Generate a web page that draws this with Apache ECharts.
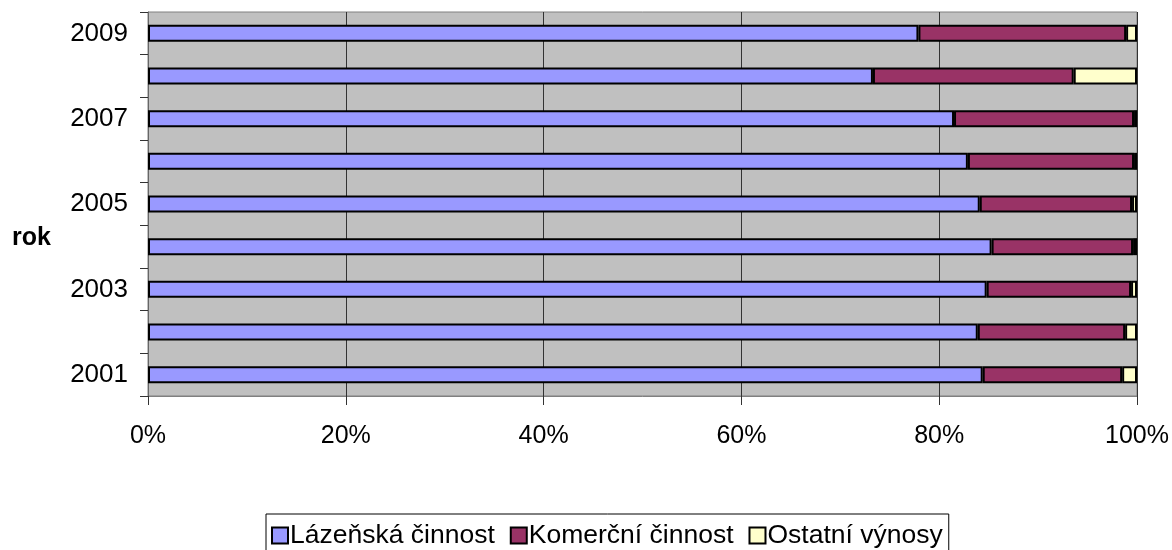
<!DOCTYPE html>
<html>
<head>
<meta charset="utf-8">
<script src="https://cdn.jsdelivr.net/npm/echarts@6/dist/echarts.min.js"></script>
<style>
  html, body { margin: 0; padding: 0; background: #fff; }
  #chart { width: 1172px; height: 550px; }
</style>
</head>
<body>
<div id="chart"></div>
<script>
const years = ["2001", "2002", "2003", "2004", "2005", "2006", "2007", "2008", "2009"];
const spaShare = [84.4, 83.9, 84.8, 85.3, 84.1, 82.9, 81.5, 73.3, 77.9];
const commercialShare = [14.1, 14.9, 14.6, 14.3, 15.4, 16.8, 18.2, 20.3, 21.0];
const otherShare = [1.5, 1.2, 0.6, 0.4, 0.5, 0.3, 0.3, 6.4, 1.1];

const fontFamily = "'Liberation Sans', Arial, sans-serif";

const chart = echarts.init(document.getElementById("chart"));

function barSeries(name, data, color) {
  return {
    name,
    type: "bar",
    stack: "total",
    data,
    barWidth: 17,
    itemStyle: { color, borderColor: "#000", borderWidth: 2 }
  };
}

chart.setOption({
  animation: false,
  textStyle: { fontFamily },
  title: {
    text: "rok",
    left: 7,
    top: 221,
    textStyle: { fontSize: 25, fontWeight: "bold", color: "#000", fontFamily }
  },
  grid: {
    left: 148,
    right: 35,
    top: 12,
    bottom: 154,
    show: true,
    backgroundColor: "#C0C0C0",
    borderColor: "#808080",
    borderWidth: 1
  },
  legend: {
    data: ["Lázeňská činnost", "Komerční činnost", "Ostatní výnosy"],
    left: 266,
    top: 514,
    padding: [8, 6, 5, 5],
    borderColor: "#000",
    borderWidth: 1,
    itemWidth: 16,
    itemHeight: 16,
    itemGap: 15,
    icon: "rect",
    textStyle: { fontSize: 26.5, color: "#000", fontFamily, padding: [0, 0, 0, -3] }
  },
  xAxis: {
    type: "value",
    min: 0,
    max: 100,
    interval: 20,
    axisLabel: {
      formatter: "{value}%",
      fontSize: 25,
      color: "#000",
      margin: 28
    },
    axisLine: { show: true, lineStyle: { color: "#808080", width: 1 } },
    axisTick: { show: true, length: 9, lineStyle: { color: "#333" } },
    splitLine: { show: true, lineStyle: { color: "#333", width: 1 } }
  },
  yAxis: {
    type: "category",
    data: years,
    axisLabel: {
      interval: 1,
      fontSize: 26,
      color: "#000",
      margin: 20
    },
    axisLine: { show: true, lineStyle: { color: "#666", width: 1 } },
    axisTick: { show: true, interval: 0, length: 8, lineStyle: { color: "#333", width: 1 } },
    splitLine: { show: false }
  },
  series: [
    barSeries("Lázeňská činnost", spaShare, "#9999FF"),
    barSeries("Komerční činnost", commercialShare, "#993366"),
    barSeries("Ostatní výnosy", otherShare, "#FFFFCC")
  ]
});
</script>
</body>
</html>
